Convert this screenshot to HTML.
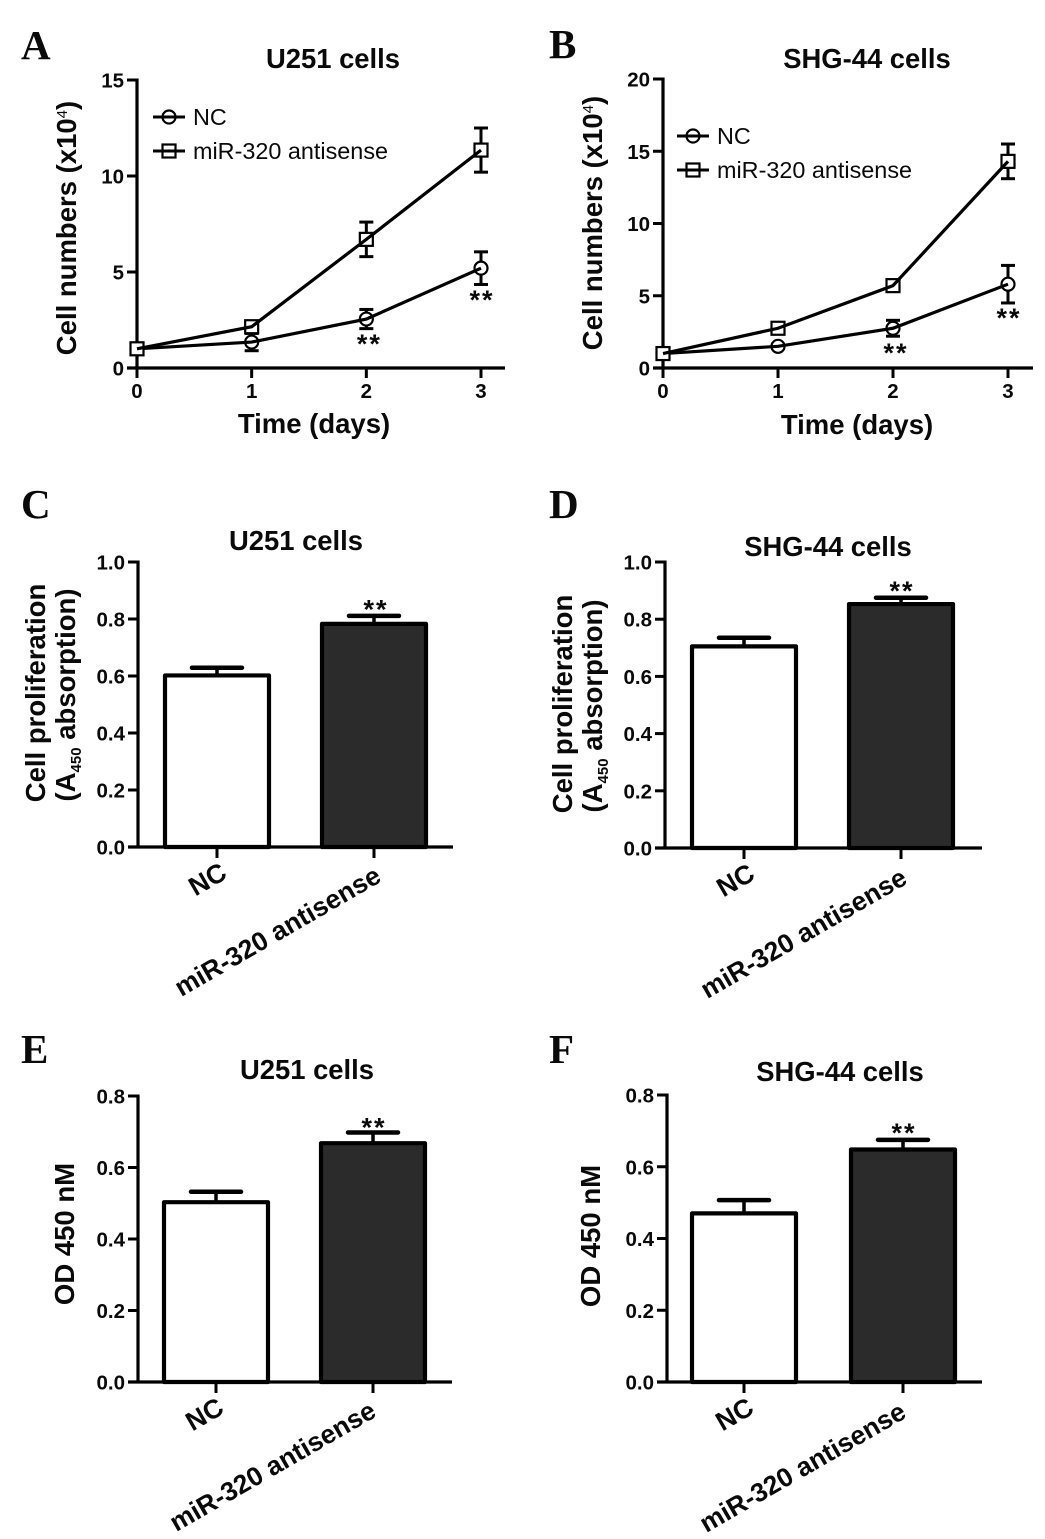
<!DOCTYPE html>
<html lang="en">
<head>
<meta charset="utf-8">
<title>Cell proliferation panels</title>
<style>
html,body{margin:0;padding:0;background:#fff;}
svg{display:block;}
text{font-family:"Liberation Sans",sans-serif;fill:#0a0a0a;}
.letter{font-family:"Liberation Serif",serif;font-weight:bold;font-size:41px;}
.title{font-weight:bold;font-size:27.4px;text-anchor:middle;}
.tick{font-weight:bold;font-size:20.5px;}
.axt{font-weight:bold;font-size:27.5px;text-anchor:middle;}
.leg{font-size:23.4px;}
.cat{font-weight:bold;font-size:26.5px;text-anchor:middle;}
.star{font-weight:bold;font-size:27px;letter-spacing:2px;text-anchor:middle;}
</style>
</head>
<body>
<svg id="figure" width="1045" height="1539" viewBox="0 0 1045 1539" xmlns="http://www.w3.org/2000/svg">
<rect width="1045" height="1539" fill="#fff"/>
</svg>
<script>
// ---------- data ----------
const days = [0, 1, 2, 3];
const groups = ['NC', 'miR-320 antisense'];

const aTicks = [0, 5, 10, 15];
const aNc = [1.0, 1.35, 2.55, 5.2];
const aNcErr = [0.1, 0.45, 0.5, 0.85];
const aAnti = [1.0, 2.15, 6.7, 11.35];
const aAntiErr = [0.1, 0.25, 0.9, 1.15];

const bTicks = [0, 5, 10, 15, 20];
const bNc = [1.0, 1.5, 2.75, 5.8];
const bNcErr = [0.1, 0.15, 0.55, 1.3];
const bAnti = [1.0, 2.75, 5.7, 14.3];
const bAntiErr = [0.1, 0.2, 0.4, 1.2];

const cTicks = ['0.0', '0.2', '0.4', '0.6', '0.8', '1.0'];
const cValues = [0.602, 0.783];
const cErr = [0.027, 0.028];

const dTicks = ['0.0', '0.2', '0.4', '0.6', '0.8', '1.0'];
const dValues = [0.705, 0.853];
const dErr = [0.03, 0.022];

const eTicks = ['0.0', '0.2', '0.4', '0.6', '0.8'];
const eValues = [0.503, 0.668];
const eErr = [0.029, 0.03];

const fTicks = ['0.0', '0.2', '0.4', '0.6', '0.8'];
const fValues = [0.47, 0.648];
const fErr = [0.037, 0.027];

// ---------- helpers ----------
const SVGNS = 'http://www.w3.org/2000/svg';
const root = document.getElementById('figure');

function make(parent, tag, props, content) {
  const el = document.createElementNS(SVGNS, tag);
  for (const k in props) { el.setAttribute(k, props[k]); }
  if (content !== undefined) { el.textContent = content; }
  parent.appendChild(el);
  return el;
}
function linearScale(d0, d1, r0, r1) {
  return function (v) { return r0 + (v - d0) * (r1 - r0) / (d1 - d0); };
}

function drawPanelHead(g, letter, lx, ly, title, tx, ty) {
  const l = make(g, 'text', {x: lx, y: ly, class: 'letter'}, letter);
  
  
  const t = make(g, 'text', {x: tx, y: ty, class: 'title'}, title);
  
  
}

function drawYAxis(g, ticks, y, x0, yMax) {
  const axis = make(g, 'line', {x1: x0, x2: x0, y1: y(0) + 1.5, y2: y(yMax) - 1.5, stroke: '#000', 'stroke-width': 3.2});
  
  
  ticks.forEach(function (tk) {
    const v = Number(tk);
    const m = make(g, 'line', {x1: x0 - 10, x2: x0, y1: y(v), y2: y(v), stroke: '#000', 'stroke-width': 3});
    
    
    const t = make(g, 'text', {x: x0 - 13, y: y(v) + 7.5, class: 'tick', 'text-anchor': 'end'}, String(tk));
    
    
  });
}

function drawErr(g, cx, yTop, yBottom, w) {
  const stem = make(g, 'line', {x1: cx, x2: cx, y1: yTop, y2: yBottom, stroke: '#000', 'stroke-width': 3});
  
  
  const a = make(g, 'line', {x1: cx - w, x2: cx + w, y1: yTop, y2: yTop, stroke: '#000', 'stroke-width': 3});
  
  
  const b = make(g, 'line', {x1: cx - w, x2: cx + w, y1: yBottom, y2: yBottom, stroke: '#000', 'stroke-width': 3});
  
  
}

function drawMarker(g, kind, cx, cy) {
  let m;
  if (kind === 'circle') {
    m = make(g, 'circle', {cx: cx, cy: cy, r: 6.5, fill: '#fff', stroke: '#000', 'stroke-width': 2.2});
  } else {
    m = make(g, 'rect', {x: cx - 6.5, y: cy - 6.5, width: 13, height: 13, fill: '#fff', stroke: '#000', 'stroke-width': 2.2});
  }
  
  
}

function drawSeries(g, name, kind, vals, errs, x, y) {
  vals.forEach(function (v, i) {
    drawErr(g, x(days[i]), y(v + errs[i]), y(v - errs[i]), 7);
    drawMarker(g, kind, x(days[i]), y(v));
  });
  const pts = vals.map(function (v, i) { return x(days[i]) + ',' + y(v); }).join(' ');
  const line = make(g, 'polyline', {points: pts, fill: 'none', stroke: '#000', 'stroke-width': 3.2});
  
  
}

function drawLegend(g, lx, textX, y1, y2) {
  const rows = [['circle', groups[0], y1], ['square', groups[1], y2]];
  rows.forEach(function (r) {
    drawMarker(g, r[0], lx + 16, r[2]);
    const ln = make(g, 'line', {x1: lx, x2: lx + 32, y1: r[2], y2: r[2], stroke: '#000', 'stroke-width': 3});
    
    
    const t = make(g, 'text', {x: textX, y: r[2] + 8, class: 'leg'}, r[1]);
    
    
  });
}

function drawStars(g, cx, baseline) {
  const s = make(g, 'text', {x: cx, y: baseline, class: 'star'}, '**');
  
  
}

function linePanel(o) {
  const g = make(root, 'g', {});
  
  
  const x = linearScale(0, 3, o.x0, o.x3);
  const y = linearScale(0, o.yMax, o.y0, o.yTop);
  drawPanelHead(g, o.letter, o.lx, o.ly, o.title, o.tx, o.ty);
  drawYAxis(g, o.ticks, y, o.x0, o.yMax);
  const xa = make(g, 'line', {x1: o.x0 - 10, x2: o.xEnd, y1: o.y0, y2: o.y0, stroke: '#000', 'stroke-width': 3.2});
  
  
  days.forEach(function (d) {
    const m = make(g, 'line', {x1: x(d), x2: x(d), y1: o.y0, y2: o.y0 + 10, stroke: '#000', 'stroke-width': 3});
    
    
    const t = make(g, 'text', {x: x(d), y: o.y0 + 30, class: 'tick', 'text-anchor': 'middle'}, String(d));
    
    
  });
  const xt = make(g, 'text', {x: o.xtx, y: o.xty, class: 'axt'}, 'Time (days)');
  
  
  const yt = make(g, 'text', {x: 0, y: 0, class: 'axt', transform: 'translate(' + o.ytx + ',' + o.yty + ') rotate(-90)'}, 'Cell numbers (x10');
  
  
  make(yt, 'tspan', {dy: -9, 'font-size': 15, 'font-weight': 'normal'}, '4');
  make(yt, 'tspan', {dy: 9}, ')');
  drawSeries(g, 'nc', 'circle', o.nc, o.ncErr, x, y);
  drawSeries(g, 'antisense', 'square', o.anti, o.antiErr, x, y);
  drawLegend(g, o.legX, o.legTextX, o.legY1, o.legY2);
  drawStars(g, x(2) + 3, o.star2);
  drawStars(g, x(3) + 1, o.star3);
}

function barPanel(o) {
  const g = make(root, 'g', {});
  
  
  const y = linearScale(0, o.yMax, o.y0, o.yTop);
  drawPanelHead(g, o.letter, o.lx, o.ly, o.title, o.tx, o.ty);
  drawYAxis(g, o.ticks, y, o.x0, o.yMax);
  o.values.forEach(function (v, i) {
    const left = o.barLeft[i];
    const cx = left + o.barW / 2;
    const stem = make(g, 'line', {x1: cx, x2: cx, y1: y(v), y2: y(v + o.err[i]), stroke: '#000', 'stroke-width': 3.5});
    
    
    const cap = make(g, 'line', {x1: cx - 25, x2: cx + 25, y1: y(v + o.err[i]), y2: y(v + o.err[i]), stroke: '#000', 'stroke-width': 4.5, 'stroke-linecap': 'round'});
    
    
    const bar = make(g, 'rect', {x: left, y: y(v), width: o.barW, height: o.y0 - y(v), fill: i === 0 ? '#fff' : '#2b2b2b', stroke: '#000', 'stroke-width': 4.2, 'stroke-linejoin': 'round'});
    
    
    const m = make(g, 'line', {x1: cx, x2: cx, y1: o.y0, y2: o.y0 + 11, stroke: '#000', 'stroke-width': 3});
    
    
    const t = make(g, 'text', {x: 0, y: 0, class: 'cat', transform: 'translate(' + o.catX[i] + ',' + o.catY[i] + ') rotate(-30)'}, groups[i]);
    
    
  });
  const xa = make(g, 'line', {x1: o.x0 - 10, x2: o.xEnd, y1: o.y0, y2: o.y0, stroke: '#000', 'stroke-width': 3.2});
  
  
  const i1 = o.values.length - 1;
  drawStars(g, o.barLeft[i1] + o.barW / 2 + o.starDx, y(o.values[i1] + o.err[i1]) + o.starDy);
  if (o.two) {
    const a = make(g, 'text', {x: 0, y: 0, class: 'axt', transform: 'translate(' + o.ytx + ',' + o.yty + ') rotate(-90)'}, 'Cell proliferation');
    
    
    const b = make(g, 'text', {x: 0, y: 0, class: 'axt', transform: 'translate(' + o.ytx2 + ',' + (o.yty + 2) + ') rotate(-90)'}, '(A');
    
    
    make(b, 'tspan', {dy: 6, 'font-size': 15}, '450');
    make(b, 'tspan', {dy: -6}, ' absorption)');
  } else {
    const a = make(g, 'text', {x: 0, y: 0, class: 'axt', transform: 'translate(' + o.ytx + ',' + o.yty + ') rotate(-90)'}, 'OD 450 nM');
    
    
  }
}

// ---------- panels ----------
linePanel({id: 'panel-a', letter: 'A', lx: 21, ly: 59, title: 'U251 cells', tx: 333, ty: 68,
  x0: 137, x3: 481, xEnd: 505, y0: 368, yTop: 80, yMax: 15, ticks: aTicks,
  nc: aNc, ncErr: aNcErr, anti: aAnti, antiErr: aAntiErr,
  xtx: 314, xty: 433, ytx: 76, yty: 228,
  legX: 153, legTextX: 193, legY1: 117, legY2: 151, star2: 353, star3: 309});

linePanel({id: 'panel-b', letter: 'B', lx: 549, ly: 58, title: 'SHG-44 cells', tx: 867, ty: 68,
  x0: 663, x3: 1008, xEnd: 1033, y0: 368, yTop: 79, yMax: 20, ticks: bTicks,
  nc: bNc, ncErr: bNcErr, anti: bAnti, antiErr: bAntiErr,
  xtx: 857, xty: 434, ytx: 602, yty: 223,
  legX: 677, legTextX: 717, legY1: 136, legY2: 170, star2: 362, star3: 327});

barPanel({id: 'panel-c', letter: 'C', lx: 21, ly: 518, title: 'U251 cells', tx: 296, ty: 550,
  x0: 138, xEnd: 453, y0: 847, yTop: 562, yMax: 1, ticks: cTicks, values: cValues, err: cErr,
  barLeft: [165, 322], barW: 104, catX: [212, 282], catY: [887, 939], starDx: 2, starDy: 2.5,
  two: true, ytx: 45, ytx2: 75, yty: 693});

barPanel({id: 'panel-d', letter: 'D', lx: 549, ly: 518, title: 'SHG-44 cells', tx: 828, ty: 556,
  x0: 665, xEnd: 982, y0: 848, yTop: 562, yMax: 1, ticks: dTicks, values: dValues, err: dErr,
  barLeft: [692, 849], barW: 104, catX: [740, 808], catY: [888, 941], starDx: 1, starDy: 2,
  two: true, ytx: 572, ytx2: 602, yty: 704});

barPanel({id: 'panel-e', letter: 'E', lx: 21, ly: 1063, title: 'U251 cells', tx: 307, ty: 1079,
  x0: 138, xEnd: 452, y0: 1382, yTop: 1096, yMax: 0.8, ticks: eTicks, values: eValues, err: eErr,
  barLeft: [164, 321], barW: 104, catX: [209, 277], catY: [1422, 1474], starDx: 1, starDy: 4,
  two: false, ytx: 74, yty: 1234});

barPanel({id: 'panel-f', letter: 'F', lx: 549, ly: 1063, title: 'SHG-44 cells', tx: 840, ty: 1081,
  x0: 667, xEnd: 982, y0: 1382, yTop: 1095, yMax: 0.8, ticks: fTicks, values: fValues, err: fErr,
  barLeft: [692, 851], barW: 104, catX: [739, 807], catY: [1422, 1475], starDx: 1, starDy: 2,
  two: false, ytx: 600, yty: 1236});
</script>
</body>
</html>
